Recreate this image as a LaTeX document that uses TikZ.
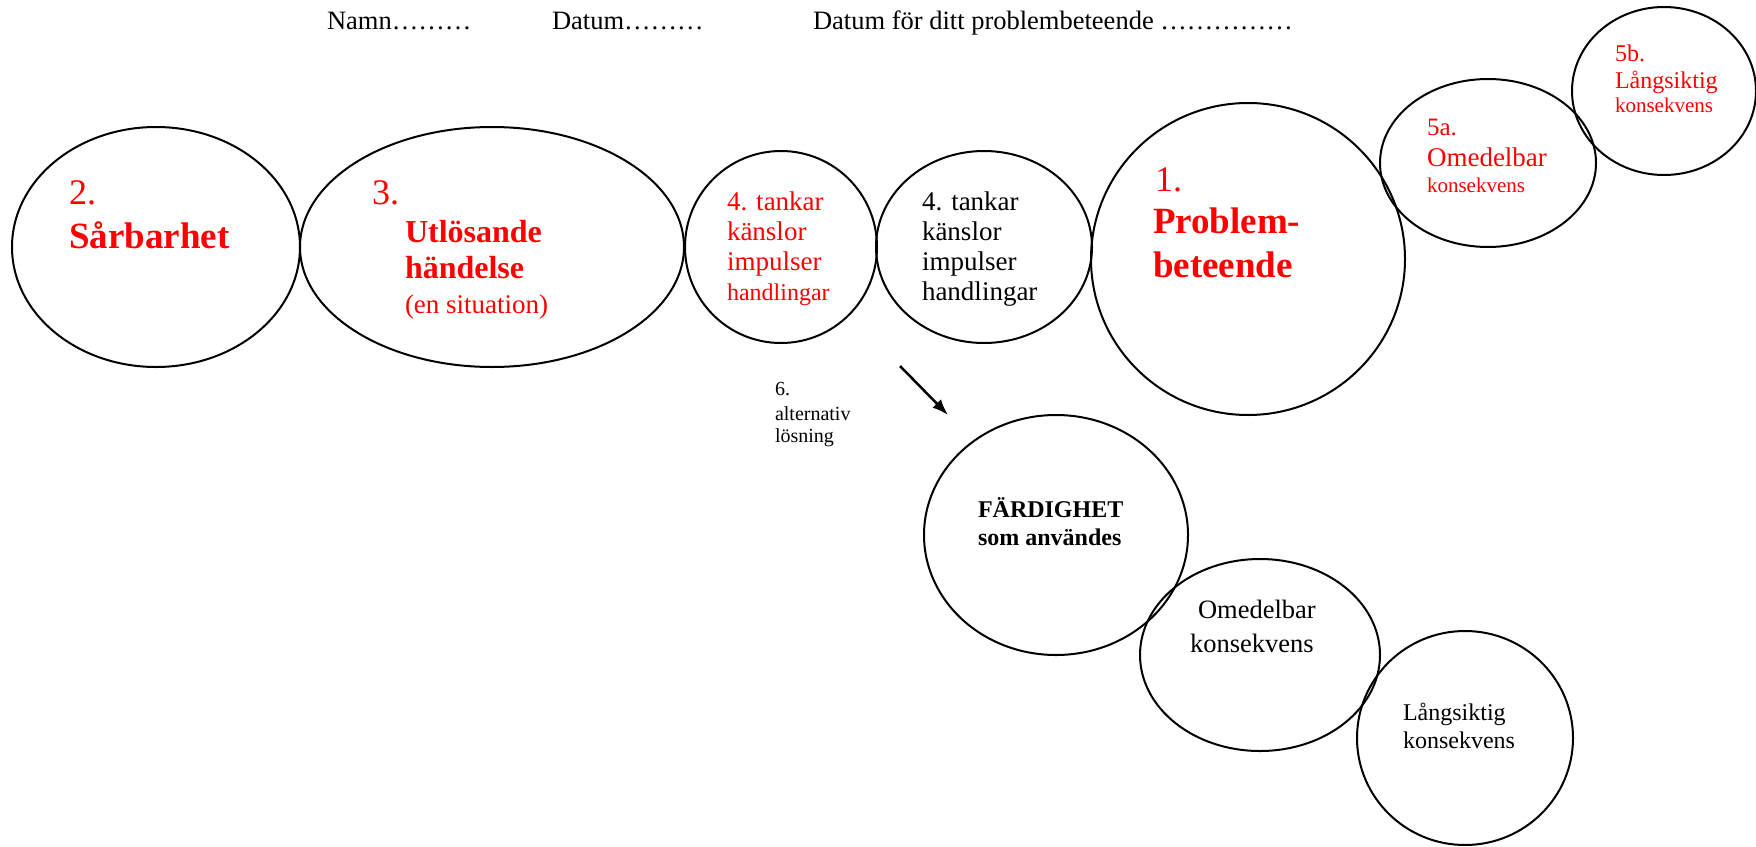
\documentclass[tikz,border=0pt]{standalone}
\usepackage{fontspec}
\setmainfont{Liberation Serif}
\usetikzlibrary{shapes.geometric,arrows.meta}
\definecolor{tred}{RGB}{255,0,0}
\tikzset{
  oval/.style={draw=black, line width=2pt, ellipse, inner sep=0pt, minimum width=#1},
  lbl/.style={anchor=base west, inner sep=0pt, outer sep=0pt},
  rtext/.style={text=tred},
}
\newcommand{\fs}[1]{\fontsize{#1}{#1}\selectfont}
\begin{document}
\begin{tikzpicture}[x=1pt,y=-1pt]
\useasboundingbox (0,0) rectangle (1756,846);
% ellipses
\node[oval=288pt, minimum height=240pt] (e2) at (156,247) {};
\node[oval=384pt, minimum height=240pt] (e3) at (492,247) {};
\node[oval=192pt, minimum height=192pt] (e4r) at (781,247) {};
\node[oval=216pt, minimum height=192pt] (e4b) at (984,247) {};
\node[oval=314pt, minimum height=312pt] (e1) at (1248,259) {};
\node[oval=216pt, minimum height=168pt] (e5a) at (1488,163) {};
\node[oval=184pt, minimum height=168pt] (e5b) at (1664,91) {};
\node[oval=264pt, minimum height=240pt] (ef) at (1056,535) {};
\node[oval=240pt, minimum height=192pt] (eo) at (1260,655) {};
\node[oval=216pt, minimum height=214pt] (el) at (1465,738) {};
% header
\node[lbl] (h1) at (327,29) {\fs{26.5}Namn………};
\node[lbl] (h2) at (552,29) {\fs{26.5}Datum………};
\node[lbl] (h3) at (813,29) {\fs{26.5}Datum för ditt problembeteende ……………};
% 2
\node[lbl,rtext] (t2a) at (69,204) {\fs{36}2.};
\node[lbl,rtext] (t2b) at (69,248) {\fs{37}\bfseries Sårbarhet};
% 3
\node[lbl,rtext] (t3a) at (372,204) {\fs{36}3.};
\node[lbl,rtext] (t3b) at (405,242) {\fs{32}\bfseries Utlösande};
\node[lbl,rtext] (t3c) at (405,278) {\fs{32}\bfseries händelse};
\node[lbl,rtext] (t3d) at (405,313) {\fs{27}(en situation)};
% 4 red
\node[lbl,rtext] (t4a) at (727,210) {\fs{27}4. tankar};
\node[lbl,rtext] (t4b) at (727,240) {\fs{27}känslor};
\node[lbl,rtext] (t4c) at (727,270) {\fs{27}impulser};
\node[lbl,rtext] (t4d) at (727,300) {\fs{24}handlingar};
% 4 black
\node[lbl] (u4a) at (922,210) {\fs{27}4. tankar};
\node[lbl] (u4b) at (922,240) {\fs{27}känslor};
\node[lbl] (u4c) at (922,270) {\fs{27}impulser};
\node[lbl] (u4d) at (922,300) {\fs{27}handlingar};
% 1
\node[lbl,rtext] (t1a) at (1155,191) {\fs{36}1.};
\node[lbl,rtext] (t1b) at (1153,233) {\fs{37}\bfseries Problem-};
\node[lbl,rtext] (t1c) at (1153,277) {\fs{37}\bfseries beteende};
% 5a
\node[lbl,rtext] (t5a) at (1427,135) {\fs{25}5a.};
\node[lbl,rtext] (t5b) at (1427,166) {\fs{27}Omedelbar};
\node[lbl,rtext] (t5c) at (1427,192) {\fs{21}konsekvens};
% 5b
\node[lbl,rtext] (t6a) at (1615,61) {\fs{24}5b.};
\node[lbl,rtext] (t6b) at (1615,88) {\fs{24}Långsiktig};
\node[lbl,rtext] (t6c) at (1615,112) {\fs{21}konsekvens};
% 6
\node[lbl] (s6a) at (775,395) {\fs{20}6.};
\node[lbl] (s6b) at (775,420) {\fs{20}alternativ};
\node[lbl] (s6c) at (775,442) {\fs{20}lösning};
% färdighet
\node[lbl] (f1) at (978,517) {\fs{24}\bfseries FÄRDIGHET};
\node[lbl] (f2) at (978,545) {\fs{24}\bfseries som användes};
\node[lbl] (o1) at (1198,618) {\fs{26.5}Omedelbar};
\node[lbl] (o2) at (1190,652) {\fs{26.5}konsekvens};
\node[lbl] (l1) at (1403,720) {\fs{24}Långsiktig};
\node[lbl] (l2) at (1403,748) {\fs{24}konsekvens};
% arrow
\coordinate (a1) at (900,366);
\coordinate (a2) at (948,415);
\draw[line width=2.5pt, -{Latex[length=16pt,width=12pt]}] (a1) -- (a2);
\end{tikzpicture}
\end{document}
